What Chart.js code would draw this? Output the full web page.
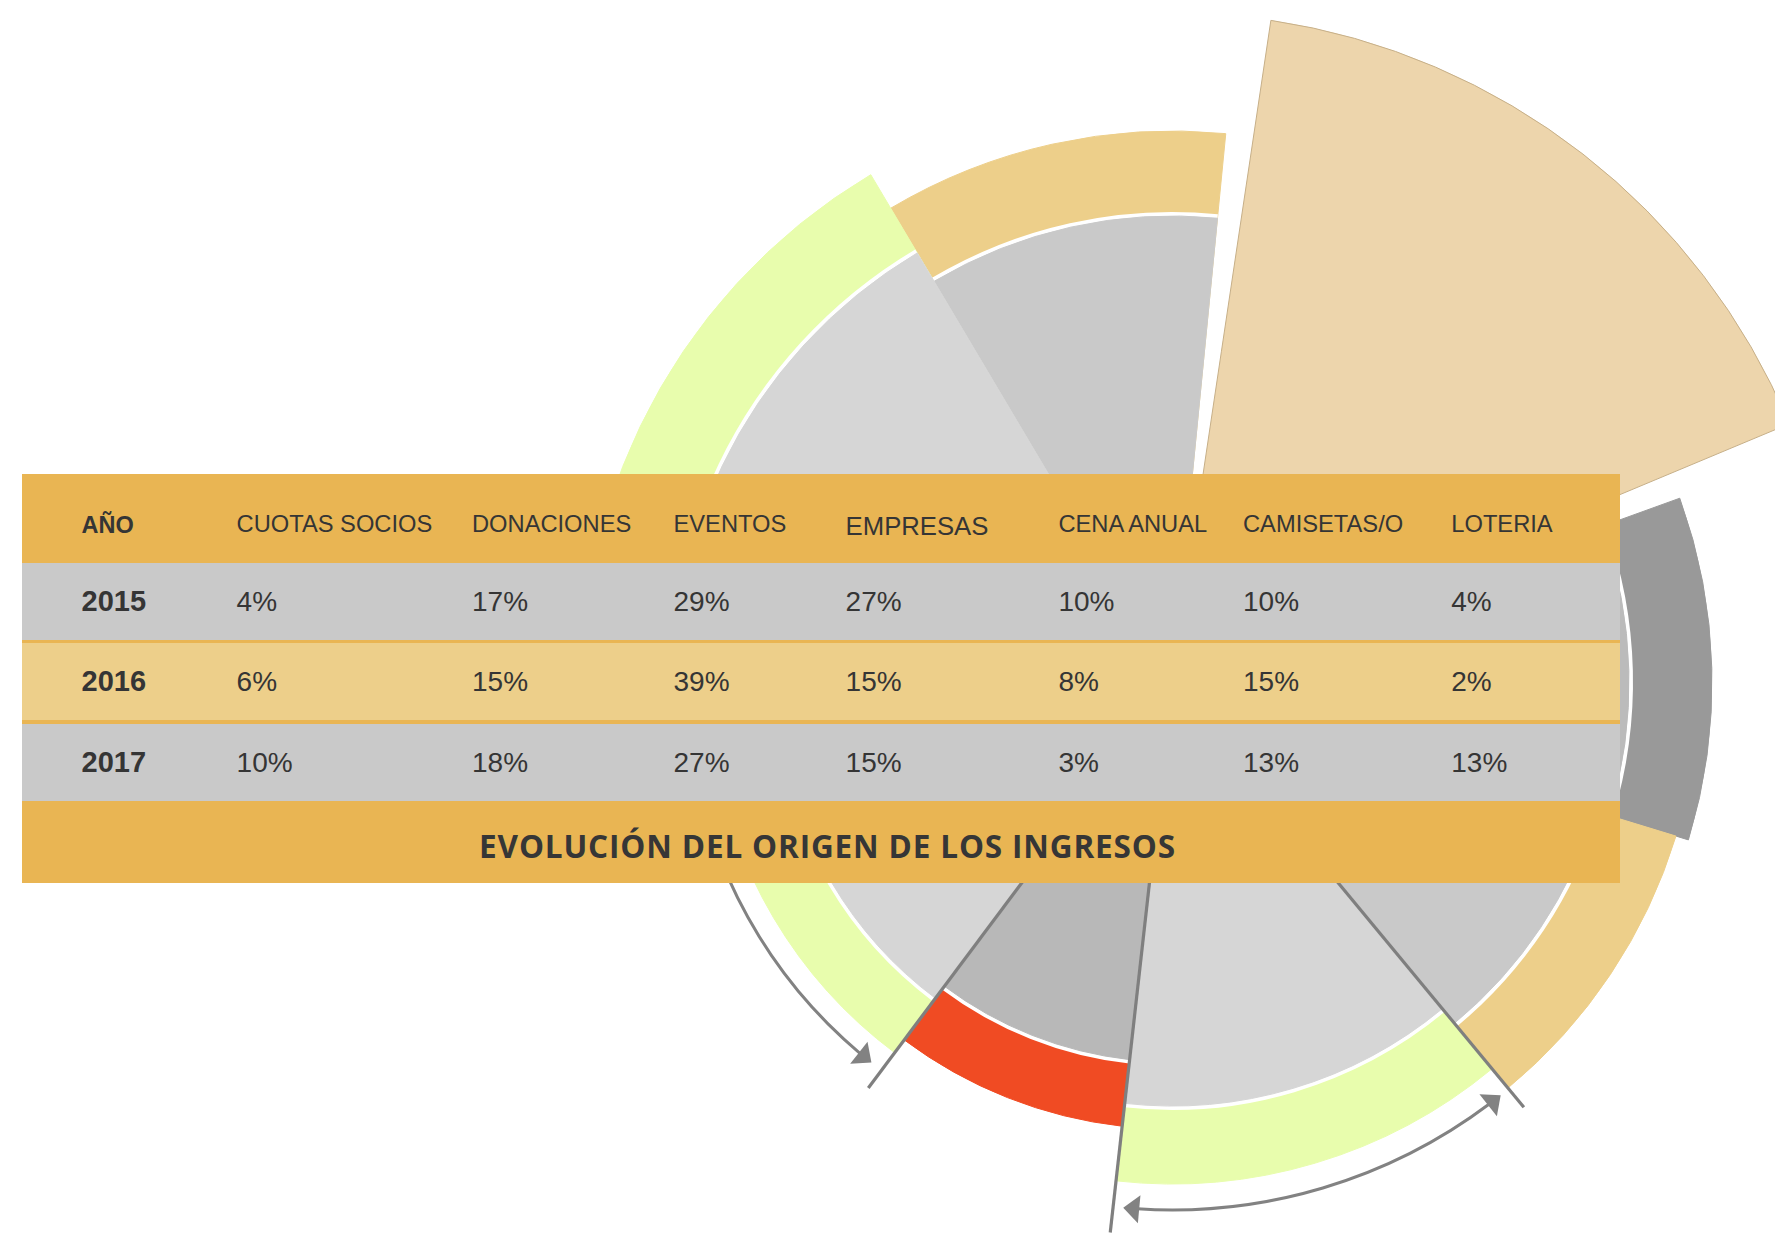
<!DOCTYPE html>
<html lang="es">
<head>
<meta charset="utf-8">
<title>Evolución del origen de los ingresos</title>
<script src="https://cdn.jsdelivr.net/npm/chart.js@4.4.1/dist/chart.umd.min.js"></script>
<style>
  html, body { margin: 0; padding: 0; background: #fff; width: 1775px; height: 1240px; overflow: hidden; }
  body { position: relative; }
  #wheel { position: absolute; left: 472px; top: -18px; }
  #tabla { position: absolute; left: 22px; top: 474px; width: 1598px; height: 409px; background: #E9B553;
           font-family: "Liberation Sans", Arial, sans-serif; color: #353535; }
  .fila { position: absolute; left: 0; width: 100%; }
  .fila span { position: absolute; top: 0; white-space: nowrap; }
  .cab { top: 0; height: 89px; line-height: 77px; font-size: 23.7px; }
  .cab span { top: 12px; }
  .cab span.anio { font-weight: bold; font-size: 23.5px; top: 13px; }
  .cab span:nth-child(5) { font-size: 25.7px; top: 13.5px; }
  .dato { height: 77px; line-height: 77px; font-size: 28px; }
  .dato span.anio { font-weight: bold; font-size: 29px; }
  .pie { top: 327px; height: 74px; padding-top: 8px; line-height: 74px; text-align: center;
         font-family: "Open Sans", sans-serif; font-weight: bold; font-size: 31.5px; letter-spacing: 0.85px; color: #363636; }
  .pie span { position: static; padding-left: 13px; }
</style>
</head>
<body>
<canvas id="wheel" width="1400" height="1400"></canvas>
<div id="tabla"></div>
<script>
document.addEventListener('DOMContentLoaded', function () {
    // table data
    const categorias = ['CUOTAS SOCIOS', 'DONACIONES', 'EVENTOS', 'EMPRESAS', 'CENA ANUAL', 'CAMISETAS/O', 'LOTERIA'];
    const anios = ['2015', '2016', '2017'];
    const pct2015 = [4, 17, 29, 27, 10, 10, 4];
    const pct2016 = [6, 15, 39, 15, 8, 15, 2];
    const pct2017 = [10, 18, 27, 15, 3, 13, 13];
    const titulo = 'EVOLUCIÓN DEL ORIGEN DE LOS INGRESOS';

    // wheel sectors, clockwise from the upper-left edge (degrees from 12 o'clock)
    const inicio = 329.3;
    const sectores = ['s1', 'hueco', 's2', 'hueco', 's3', 's4', 's5', 's6', 's7', 's8'];
    const amplitud = [36.3, 2.9, 58.8, 2.8, 36.9, 33.4, 46.0, 30.4, 45.2, 67.3];
    const radioGris = [466, 0, 0, 0, 457, 443, 424, 380, 395, 499];
    const radioAnillo = [551, 0, 669, 0, 540, 527, 502, 447, 463, 590];

    // guide lines and arrows
    const guiaAngulo = [140.4, 186.4, 216.8];
    const guiaRadio = [552, 554, 507];
    const flechaDesde = [262, 141.5];
    const flechaHasta = [218.3, 185.3];
    const flechaRadio = [485, 528];
    const flechaDoble = [false, true];

    // colours
    const colGris = ['#C9C9C9', null, null, null, '#BBBBBB', '#C9C9C9', '#D6D6D6', '#B8B8B8', '#D6D6D6', '#D6D6D6'];
    const colAnillo = ['#EDCF8A', null, '#EDD5AC', null, '#999999', '#EDCF8A', '#E8FDAD', '#F04B23', '#E8FDAD', '#E8FDAD'];
    const vacio = 'rgba(0,0,0,0)';
    const separacion = 4;

    // ---- table ----
    const tabla = document.getElementById('tabla');
    const colX = [214.6, 450, 651.5, 823.6, 1036.4, 1221, 1429.3];
    const anioX = 59.5;

    function fila(clase, top, fondo, primero, celdas) {
      const div = document.createElement('div');
      div.className = 'fila ' + clase;
      if (top !== null) div.style.top = top + 'px';
      if (fondo) div.style.background = fondo;
      const a = document.createElement('span');
      a.className = 'anio';
      a.style.left = anioX + 'px';
      a.textContent = primero;
      div.appendChild(a);
      celdas.forEach((txt, i) => {
        const s = document.createElement('span');
        s.style.left = colX[i] + 'px';
        s.textContent = txt;
        div.appendChild(s);
      });
      tabla.appendChild(div);
    }

    fila('cab', null, null, 'AÑO', categorias);
    const filas = [pct2015, pct2016, pct2017];
    const topFila = [89, 169, 250];
    const fondoFila = ['#C9C9C9', '#EDCF8A', '#C9C9C9'];
    filas.forEach((vals, k) => {
      fila('dato', topFila[k], fondoFila[k], anios[k], vals.map(v => v + '%'));
    });
    const pie = document.createElement('div');
    pie.className = 'fila pie';
    const ps = document.createElement('span');
    ps.textContent = titulo;
    pie.appendChild(ps);
    tabla.appendChild(pie);

    // ---- guides + arrows drawn on the wheel ----
    const guias = {
      id: 'guias',
      afterDatasetsDraw(chart) {
        const s = chart.scales.r;
        const cx = s.xCenter, cy = s.yCenter;
        const ctx = chart.ctx;
        const rad = d => d * Math.PI / 180;
        const punto = (deg, px) => [cx + px * Math.sin(rad(deg)), cy - px * Math.cos(rad(deg))];

        ctx.save();
        ctx.strokeStyle = '#7F7F7F';
        ctx.lineWidth = 3.2;
        guiaAngulo.forEach((deg, i) => {
          const p = punto(deg, s.getDistanceFromCenterForValue(guiaRadio[i]));
          ctx.beginPath();
          ctx.moveTo(cx, cy);
          ctx.lineTo(p[0], p[1]);
          ctx.stroke();
        });

        const largo = 16, ancho = 28;
        function punta(deg, signo, R) {
          const tip = punto(deg, R);
          const dir = [signo * Math.cos(rad(deg)), signo * Math.sin(rad(deg))];
          const b = [tip[0] - largo * dir[0], tip[1] - largo * dir[1]];
          const n = [-dir[1], dir[0]];
          ctx.beginPath();
          ctx.moveTo(tip[0], tip[1]);
          ctx.lineTo(b[0] + n[0] * ancho / 2, b[1] + n[1] * ancho / 2);
          ctx.lineTo(b[0] - n[0] * ancho / 2, b[1] - n[1] * ancho / 2);
          ctx.closePath();
          ctx.fill();
        }

        ctx.strokeStyle = '#828282';
        ctx.fillStyle = '#828282';
        ctx.lineWidth = 3;
        flechaDesde.forEach((desde, i) => {
          const hasta = flechaHasta[i];
          const R = s.getDistanceFromCenterForValue(flechaRadio[i]);
          const signo = hasta > desde ? 1 : -1;
          const recorte = (largo - 2) / R * 180 / Math.PI;
          const a0 = desde + (flechaDoble[i] ? signo * recorte : 0);
          const a1 = hasta - signo * recorte;
          ctx.beginPath();
          ctx.arc(cx, cy, R, rad(a0 - 90), rad(a1 - 90), signo < 0);
          ctx.stroke();
          punta(hasta, signo, R);
          if (flechaDoble[i]) punta(desde, -signo, R);
        });
        ctx.restore();
      }
    };

    const porIndice = arr => c => arr[c.dataIndex];

    new Chart(document.getElementById('wheel'), {
      type: 'polarArea',
      data: {
        labels: sectores,
        datasets: [
          {
            // inner grey slices (drawn on top)
            data: radioGris,
            angle: porIndice(amplitud),
            backgroundColor: colGris.map(c => c || vacio),
            borderColor: colGris.map(c => c || vacio),
            borderWidth: radioGris.map(v => v ? 1 : 0)
          },
          {
            // white separation between slices and outer band
            data: radioGris.map(v => v ? v + separacion : 0),
            angle: porIndice(amplitud),
            backgroundColor: '#FFFFFF',
            borderColor: '#FFFFFF',
            borderWidth: 0
          },
          {
            // outer coloured band
            data: radioAnillo,
            angle: porIndice(amplitud),
            backgroundColor: colAnillo.map(c => c || vacio),
            borderColor: colAnillo.map((c, i) => i === 2 ? '#C6AF88' : (c || vacio)),
            borderWidth: radioAnillo.map(v => v ? 1 : 0)
          }
        ]
      },
      options: {
        responsive: false,
        devicePixelRatio: 1,
        animation: false,
        events: [],
        plugins: {
          legend: { display: false },
          tooltip: { enabled: false }
        },
        scales: {
          r: {
            display: false,
            min: 0,
            max: 700,
            startAngle: inicio
          }
        }
      },
      plugins: [guias]
    });
});
</script>
</body>
</html>
